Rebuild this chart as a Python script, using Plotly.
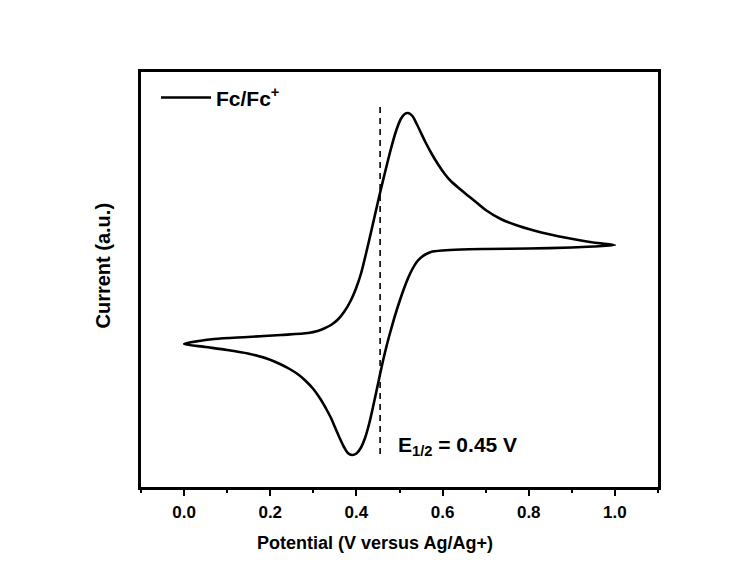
import plotly.graph_objects as go

# Forward (anodic) scan, 0.0 -> 1.0 V
fwd_potential = [0.00, 0.07, 0.148, 0.225, 0.288, 0.31, 0.325, 0.341, 0.357, 0.372, 0.387,
                 0.399, 0.411, 0.434, 0.452, 0.466, 0.480, 0.492, 0.503, 0.512, 0.520,
                 0.530, 0.540, 0.550, 0.560, 0.575, 0.589, 0.605, 0.619, 0.643, 0.66,
                 0.68, 0.70, 0.735, 0.77, 0.812, 0.85, 0.89, 0.95, 1.00]
fwd_current = [0.0, 0.5, 0.7, 0.9, 1.1, 1.3, 1.55, 1.9, 2.45, 3.25, 4.35,
               5.55, 7.1, 11.2, 14.6, 17.1, 19.5, 21.3, 22.5, 23.0, 23.1,
               22.8, 22.0, 21.1, 20.2, 19.0, 18.0, 17.0, 16.3, 15.4, 14.8,
               14.1, 13.4, 12.5, 11.9, 11.35, 10.95, 10.6, 10.15, 9.9]

# Reverse (cathodic) scan, 1.0 -> 0.0 V
rev_potential = [1.00, 0.95, 0.90, 0.80, 0.70, 0.643, 0.60, 0.573, 0.56, 0.55, 0.54,
                 0.53, 0.52, 0.51, 0.50, 0.49, 0.48, 0.47, 0.46, 0.45, 0.44,
                 0.43, 0.42, 0.41, 0.40, 0.39, 0.38, 0.371, 0.36, 0.35, 0.341,
                 0.33, 0.318, 0.30, 0.28, 0.265, 0.245, 0.225, 0.195, 0.148, 0.10,
                 0.05, 0.00]
rev_current = [9.9, 9.75, 9.65, 9.55, 9.5, 9.45, 9.35, 9.2, 8.95, 8.65, 8.2,
               7.5, 6.6, 5.5, 4.25, 2.9, 1.4, -0.2, -2.0, -4.0, -6.0,
               -7.9, -9.4, -10.4, -10.95, -11.1, -10.9, -10.3, -9.3, -8.3, -7.4,
               -6.5, -5.6, -4.5, -3.6, -3.05, -2.5, -2.05, -1.5, -0.95, -0.6,
               -0.3, 0.0]

e_half = 0.455
e_half_label = "E<sub>1/2</sub> = 0.45 V"
dash_current = [23.7, -11.1]

potential = fwd_potential + rev_potential[1:]
current = fwd_current + rev_current[1:]

FONT = "Liberation Sans, Arial, sans-serif"
L, R, T, B = 141, 92, 72, 87

fig = go.Figure()
fig.add_trace(go.Scatter(
    x=potential, y=current, mode="lines", name="<b>Fc/Fc<sup>+</sup></b>",
    line=dict(color="black", width=2.6, shape="spline", smoothing=0.8),
))
fig.add_trace(go.Scatter(
    x=[e_half, e_half], y=dash_current, mode="lines", showlegend=False,
    line=dict(color="black", width=1.6, dash="6px,5px"),
))

fig.add_annotation(x=0.492, y=-10.2, xref="x", yref="y", text="<b>" + e_half_label + "</b>",
                   showarrow=False, xanchor="left", yanchor="middle",
                   font=dict(family=FONT, size=21, color="black"))
# y-axis title
fig.add_annotation(x=0, y=0.5, xref="paper", yref="paper", text="<b>Current (a.u.)</b>",
                   showarrow=False, textangle=-90, xanchor="center", yanchor="middle",
                   xshift=102 - L, yshift=14,
                   font=dict(family=FONT, size=20, color="black"))
# x-axis title
fig.add_annotation(x=0, y=0, xref="paper", yref="paper",
                   text="<b>Potential (V versus Ag/Ag+)</b>",
                   showarrow=False, xanchor="center", yanchor="middle",
                   xshift=375 - L, yshift=-(543 - (574 - B)),
                   font=dict(family=FONT, size=18, color="black"))

fig.update_layout(
    width=750, height=574,
    margin=dict(l=L, r=R, t=T, b=B),
    paper_bgcolor="white", plot_bgcolor="white",
    font=dict(family=FONT, color="black"),
    legend=dict(x=0.029, y=0.987, xanchor="left", yanchor="top", bgcolor="rgba(0,0,0,0)",
                font=dict(family=FONT, size=21, color="black"),
                itemwidth=50, tracegroupgap=0),
    showlegend=True,
)
fig.update_xaxes(
    range=[-0.1, 1.1], showgrid=False, zeroline=False,
    showline=True, linecolor="black", linewidth=2.5, mirror=True,
    ticks="outside", ticklen=6, tickwidth=2, tickcolor="black",
    ticklabelstandoff=2,
    tickvals=[0.0, 0.2, 0.4, 0.6, 0.8, 1.0],
    ticktext=["<b>0.0</b>", "<b>0.2</b>", "<b>0.4</b>", "<b>0.6</b>", "<b>0.8</b>", "<b>1.0</b>"],
    tickfont=dict(family=FONT, size=17, color="black"),
    minor=dict(tickvals=[-0.1, 0.1, 0.3, 0.5, 0.7, 0.9, 1.1], ticks="outside", ticklen=3,
               tickwidth=2, tickcolor="black"),
)
fig.update_yaxes(
    range=[-14.3, 27.2], showgrid=False, zeroline=False,
    showline=True, linecolor="black", linewidth=2.5, mirror=True,
    showticklabels=False, ticks="",
)

fig.write_html("out.html")
